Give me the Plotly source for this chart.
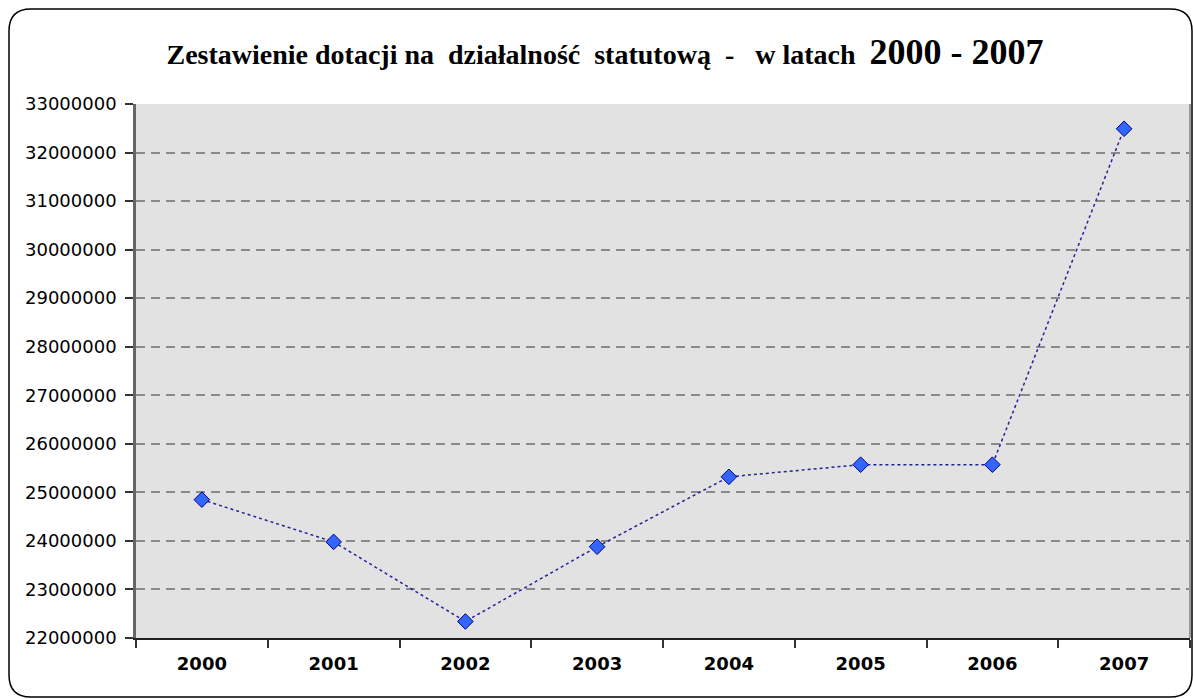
import plotly.graph_objects as go

years = ["2000", "2001", "2002", "2003", "2004", "2005", "2006", "2007"]
values = [24850000, 23980000, 22340000, 23880000, 25320000, 25570000, 25570000, 32490000]
y_ticks = list(range(22000000, 33000001, 1000000))

W, H = 1193, 699
ML, MR, MT, MB = 136, 3, 104, 61
PW, PH = W - ML - MR, H - MT - MB

def px_x(x):
    return (x - ML) / PW

def px_y(y):
    return (H - MB - y) / PH

fig = go.Figure()
fig.add_trace(go.Scatter(
    x=years, y=values, mode="lines+markers",
    line=dict(color="#23239a", width=1.5, dash="dot"),
    marker=dict(symbol="diamond", size=12, color="#3366ff",
                line=dict(color="#000080", width=1)),
    showlegend=False,
))

# rounded outer border
x0, x1 = px_x(9), px_x(1192)
y0, y1 = px_y(697), px_y(9)
rx, ry = 22 / PW, 22 / PH
path = (f"M {x0+rx},{y1} L {x1-rx},{y1} Q {x1},{y1} {x1},{y1-ry} "
        f"L {x1},{y0+ry} Q {x1},{y0} {x1-rx},{y0} L {x0+rx},{y0} "
        f"Q {x0},{y0} {x0},{y0+ry} L {x0},{y1-ry} Q {x0},{y1} {x0+rx},{y1} Z")
fig.add_shape(type="path", path=path, xref="paper", yref="paper",
              line=dict(color="black", width=1.5), layer="below")
fig.add_shape(type="line", xref="paper", yref="paper", x0=1, x1=1, y0=0, y1=1,
              line=dict(color="#9a9a9a", width=2))

nb = "\u00a0"
title = (f"<b>Zestawienie dotacji na{nb}{nb}działalność{nb}{nb}statutową{nb}{nb}-{nb}{nb}{nb}w latach{nb}{nb}"
         f"<span style='font-size:36px'>2000 - 2007</span></b>")

fig.update_layout(
    width=W, height=H,
    margin=dict(l=ML, r=MR, t=MT, b=MB),
    paper_bgcolor="white", plot_bgcolor="#e2e2e2",
    title=dict(text=title, x=605 / W, xanchor="center",
               y=1 - 54 / H, yanchor="middle",
               font=dict(family="Liberation Serif", size=28, color="black")),
    xaxis=dict(
        type="category", tickson="boundaries", ticks="outside", ticklen=8,
        tickcolor="#333", tickwidth=1.5,
        showline=True, linecolor="#222", linewidth=1.5,
        showgrid=False, ticklabelstandoff=9,
        tickfont=dict(family="DejaVu Sans", size=18, color="black", weight="bold"),
        range=[-0.5, 7.5],
    ),
    yaxis=dict(
        range=[22000000, 33000000], tickvals=y_ticks,
        ticktext=[str(v) for v in y_ticks],
        ticks="outside", ticklen=8, tickcolor="#333", tickwidth=1.5,
        showline=True, linecolor="#666", linewidth=2.5,
        showgrid=True, gridcolor="#8a8a8a", gridwidth=1.5, griddash="9px,6px",
        zeroline=False, ticklabelstandoff=5,
        tickfont=dict(family="DejaVu Sans", size=18, color="black"),
    ),
)

fig.write_html("out.html", config={"displayModeBar": False},
               post_script="document.body.style.margin='0';document.body.style.overflow='hidden';")
